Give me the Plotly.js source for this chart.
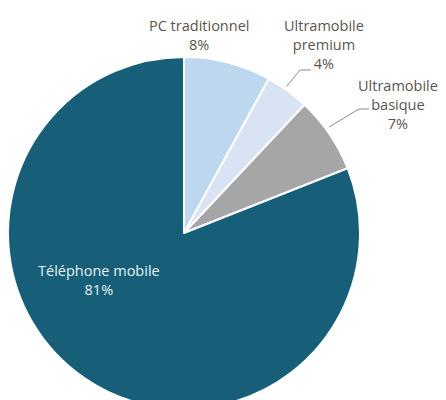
<!DOCTYPE html>
<html>
<head>
<meta charset="utf-8">
<script src="https://cdn.plot.ly/plotly-3.0.1.min.js"></script>
<style>
html,body{margin:0;padding:0;width:446px;height:400px;overflow:hidden;background:#fff;}
#chart{width:446px;height:420px;}
</style>
</head>
<body>
<div id="chart"></div>
<script>
const categories = ["PC traditionnel", "Ultramobile premium", "Ultramobile basique", "Téléphone mobile"];
const labelLines = ["PC traditionnel", "Ultramobile<br>premium", "Ultramobile<br>basique", "Téléphone mobile"];
const values = [8, 4, 7, 81];
const colors = ["#bdd7ee", "#dae3f3", "#a6a6a6", "#175f78"];

const W = 446, H = 420;
const px = x => x / W;
const py = y => 1 - y / H;

// label anchor positions in pixels (layout only)
const labelPos = [[199, 35], [324, 45], [398, 104], [99, 280]];
const labelColors = ["#5a5550", "#5a5550", "#5a5550", "#e6f2f2"];

const annotations = categories.map((c, i) => ({
  text: labelLines[i] + "<br>" + values[i] + "%",
  x: px(labelPos[i][0]), y: py(labelPos[i][1]),
  xref: "paper", yref: "paper",
  xanchor: "center", yanchor: "middle",
  showarrow: false,
  font: {family: "'Open Sans', Lato, sans-serif", size: 14.5, color: labelColors[i]}
}));

const path = pts => pts.map((p, i) => (i ? "L" : "M") + px(p[0]) + "," + py(p[1])).join(" ");
const shapes = [
  {type: "path", xref: "paper", yref: "paper", path: path([[287, 86], [300, 70], [311, 70]]), line: {color: "#8c8c8c", width: 1}},
  {type: "path", xref: "paper", yref: "paper", path: path([[329, 127], [359, 109], [369, 109]]), line: {color: "#8c8c8c", width: 1}}
];

const trace = {
  type: "pie",
  labels: categories,
  values: values,
  sort: false,
  direction: "clockwise",
  rotation: 0,
  textinfo: "none",
  hoverinfo: "label+percent",
  marker: {colors: colors, line: {color: "#ffffff", width: 2}},
  domain: {x: [px(8), px(360)], y: [py(409), py(57)]}
};

Plotly.newPlot("chart", [trace], {
  width: W, height: H,
  margin: {l: 0, r: 0, t: 0, b: 0},
  showlegend: false,
  paper_bgcolor: "#ffffff",
  annotations: annotations,
  shapes: shapes
}, {displayModeBar: false, staticPlot: true});
</script>
</body>
</html>
